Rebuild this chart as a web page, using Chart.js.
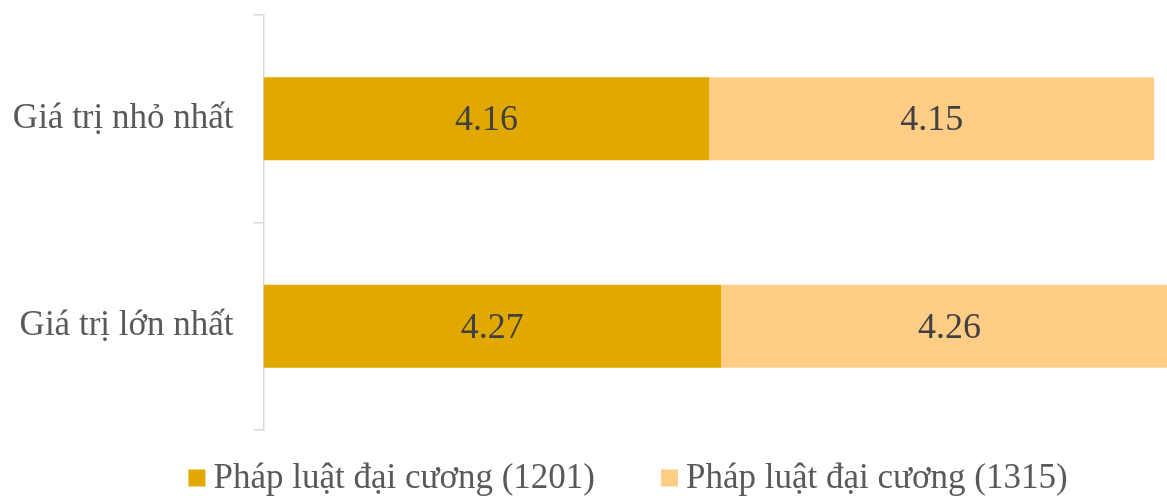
<!DOCTYPE html>
<html>
<head>
<meta charset="utf-8">
<script src="https://cdn.jsdelivr.net/npm/chart.js@4"></script>
<style>
  html, body { margin: 0; padding: 0; background: #fff; }
  #wrap { width: 1167px; height: 496px; }
</style>
</head>
<body>
<div id="wrap"><canvas id="c"></canvas></div>
<script>
// ── 데이터 ──
const categories = ['Giá trị nhỏ nhất', 'Giá trị lớn nhất'];
const seriesNames = ['Pháp luật đại cương (1201)', 'Pháp luật đại cương (1315)'];
const values1201 = [4.16, 4.27];
const values1315 = [4.15, 4.26];
const colors = ['#E1A900', '#FFCD85'];

const FONT = '"Liberation Serif", "Times New Roman", serif';

// 막대 가운데 값 표시
const valueLabels = {
  id: 'valueLabels',
  afterDatasetsDraw(chart) {
    const ctx = chart.ctx;
    ctx.save();
    ctx.font = '36px ' + FONT;
    ctx.fillStyle = '#404040';
    ctx.textAlign = 'center';
    ctx.textBaseline = 'middle';
    chart.data.datasets.forEach((ds, i) => {
      chart.getDatasetMeta(i).data.forEach((bar, j) => {
        const p = bar.getCenterPoint();
        ctx.fillText(ds.data[j].toFixed(2), p.x, p.y + 2);
      });
    });
    ctx.restore();
  }
};

// 하단 범례 (직접 그림)
const bottomLegend = {
  id: 'bottomLegend',
  afterDraw(chart) {
    const ctx = chart.ctx;
    const box = 17, boxGap = 8, itemGap = 66, cx = 628, cy = 478;
    ctx.save();
    ctx.font = '35px ' + FONT;
    ctx.textBaseline = 'middle';
    const items = chart.data.datasets.map(ds => ({ text: ds.label, color: ds.backgroundColor, w: ctx.measureText(ds.label).width }));
    const total = items.reduce((s, it) => s + box + boxGap + it.w, 0) + itemGap * (items.length - 1);
    let x = cx - total / 2;
    items.forEach(it => {
      ctx.fillStyle = it.color;
      ctx.fillRect(x, cy - box / 2, box, box);
      x += box + boxGap;
      ctx.fillStyle = '#595959';
      ctx.fillText(it.text, x, cy + 1);
      x += it.w + itemGap;
    });
    ctx.restore();
  }
};

new Chart(document.getElementById('c'), {
  type: 'bar',
  data: {
    labels: categories,
    datasets: [
      { label: seriesNames[0], data: values1201, backgroundColor: colors[0], categoryPercentage: 1, barPercentage: 0.4 },
      { label: seriesNames[1], data: values1315, backgroundColor: colors[1], categoryPercentage: 1, barPercentage: 0.4 }
    ]
  },
  options: {
    indexAxis: 'y',
    responsive: true, maintainAspectRatio: false, animation: false,
    layout: { padding: { top: 15, left: 0, right: 0, bottom: 66 } },
    plugins: {
      tooltip: { enabled: false },
      legend: { display: false }
    },
    scales: {
      x: { stacked: true, display: false, min: 0, max: 8.43 },
      y: {
        stacked: true,
        afterFit: s => { s.width = 263.5; s.paddingTop = 0; s.paddingBottom = 0; },
        border: { color: '#D9D9D9', width: 1.5 },
        grid: { drawOnChartArea: false, color: '#D9D9D9', lineWidth: 1.5, tickLength: 10, offset: true },
        ticks: { color: '#595959', padding: 20, font: { family: FONT, size: 35 } }
      }
    }
  },
  plugins: [valueLabels, bottomLegend]
});
</script>
</body>
</html>
